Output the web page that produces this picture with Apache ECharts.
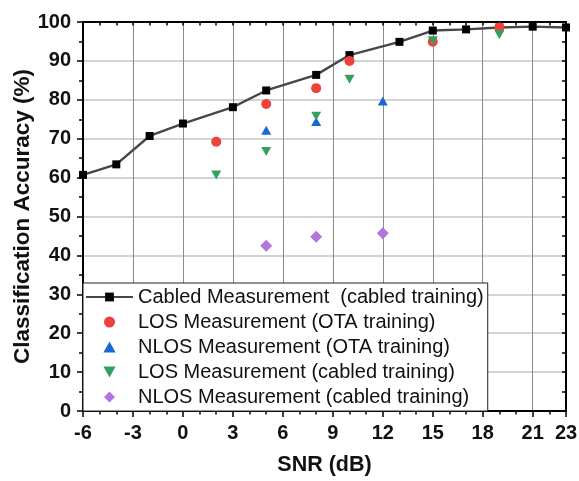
<!DOCTYPE html>
<html>
<head>
<meta charset="utf-8">
<script src="https://cdn.jsdelivr.net/npm/echarts@6/dist/echarts.min.js"></script>
<style>
  html, body { margin: 0; padding: 0; background: #fff; }
  #chart { width: 579px; height: 481px; }
</style>
</head>
<body>
<div id="chart"></div>
<script>
// SNR positions (dB) and classification accuracy (%) for each measurement set
const cabledSnr = [-6, -4, -2, 0, 3, 5, 8, 10, 13, 15, 17, 19, 21, 23];
const cabledAcc = [60.7, 63.4, 70.7, 73.9, 78.1, 82.4, 86.4, 91.5, 94.9, 97.8, 98.1, 98.6, 98.8, 98.6];

const losOtaSnr = [2, 5, 8, 10, 15, 19];
const losOtaAcc = [69.2, 78.9, 83.0, 90.0, 94.9, 98.6];

const nlosOtaSnr = [5, 8, 12];
const nlosOtaAcc = [72.2, 74.4, 79.7];

const losCabledSnr = [2, 5, 8, 10, 15, 19];
const losCabledAcc = [60.7, 66.7, 75.8, 85.3, 95.2, 96.7];

const nlosCabledSnr = [5, 8, 12];
const nlosCabledAcc = [42.5, 44.8, 45.7];

const seriesNames = [
  'Cabled Measurement  (cabled training)',
  'LOS Measurement (OTA training)',
  'NLOS Measurement (OTA training)',
  'LOS Measurement (cabled training)',
  'NLOS Measurement (cabled training)'
];

const xTickValues = [-6, -3, 0, 3, 6, 9, 12, 15, 18, 21, 23];
const yTickValues = [0, 10, 20, 30, 40, 50, 60, 70, 80, 90, 100];

const pairs = (xs, ys) => xs.map((x, i) => [x, ys[i]]);

// legend glyphs as paths so they keep their proportions inside the wide icon box
const ICON_UP = 'path://M5,0 L10,9 L0,9 Z';
const ICON_DOWN = 'path://M0,0 L10,0 L5,9 Z';
const ICON_DIAMOND = 'path://M5,0 L10,5 L5,10 L0,5 Z';

const FONT = '"Liberation Sans", Arial, sans-serif';
const frame = { show: true, onZero: false, lineStyle: { color: '#000', width: 2 } };
const tickFont = { fontFamily: FONT, fontWeight: 'bold', fontSize: 20, color: '#111' };

const chart = echarts.init(document.getElementById('chart'), null, { renderer: 'canvas' });

chart.setOption({
  animation: false,
  backgroundColor: '#fff',
  grid: { left: 83, right: 13, top: 22, bottom: 70, containLabel: false, outerBoundsMode: 'none' },
  legend: {
    orient: 'vertical',
    left: 83,
    top: 283,
    data: [
      { name: seriesNames[0] },
      { name: seriesNames[1], icon: 'circle' },
      { name: seriesNames[2], icon: ICON_UP },
      { name: seriesNames[3], icon: ICON_DOWN },
      { name: seriesNames[4], icon: ICON_DIAMOND }
    ],
    symbolKeepAspect: true,
    backgroundColor: '#fff',
    borderColor: '#222',
    borderWidth: 1,
    borderRadius: 0,
    padding: [4, 4, 4, 2],
    itemGap: 5,
    itemWidth: 47,
    itemHeight: 11,
    textStyle: { fontFamily: FONT, fontSize: 20, color: '#111' }
  },
  xAxis: [
    {
      type: 'value', position: 'bottom', min: -6, max: 23,
      name: 'SNR (dB)', nameLocation: 'middle', nameGap: 43, nameMoveOverlap: false,
      nameTextStyle: { fontFamily: FONT, fontWeight: 'bold', fontSize: 21.5, color: '#111' },
      axisLine: frame,
      axisTick: { show: true, inside: false, length: 6, customValues: xTickValues, lineStyle: { color: '#000', width: 1.5 } },
      axisLabel: Object.assign({ margin: 12, customValues: xTickValues, showMinLabel: true, showMaxLabel: true }, tickFont),
      splitLine: { show: true, lineStyle: { color: '#8a8a8a', width: 1 } }
    },
    {
      // unit minor ticks along the bottom edge
      type: 'value', position: 'bottom', min: -6, max: 23, interval: 1,
      axisLine: { show: false, onZero: false },
      axisTick: { show: true, inside: false, length: 3.5, lineStyle: { color: '#000', width: 1.5 } },
      axisLabel: { show: false },
      splitLine: { show: false }
    },
    {
      // top edge of the frame
      type: 'value', position: 'top', min: -6, max: 23, interval: 1,
      axisLine: frame,
      axisTick: { show: true, inside: true, length: 3.5, lineStyle: { color: '#000', width: 1.5 } },
      axisLabel: { show: false },
      splitLine: { show: false }
    }
  ],
  yAxis: [
    {
      type: 'value', position: 'left', min: 0, max: 100, interval: 10,
      name: 'Classification Accuracy (%)', nameLocation: 'middle', nameGap: 49, nameMoveOverlap: false,
      nameTextStyle: { fontFamily: FONT, fontWeight: 'bold', fontSize: 22.5, color: '#111' },
      axisLine: frame,
      axisTick: { show: true, inside: false, length: 6, lineStyle: { color: '#000', width: 1.5 } },
      minorTick: { show: true, splitNumber: 2, length: 4, lineStyle: { color: '#000', width: 1.5 } },
      axisLabel: Object.assign({ margin: 12, customValues: yTickValues }, tickFont),
      splitLine: { show: true, lineStyle: { color: '#c4c4c4', width: 1.5 } }
    },
    {
      // right edge of the frame
      type: 'value', position: 'right', min: 0, max: 100, interval: 5,
      axisLine: frame,
      axisTick: { show: true, inside: true, length: 4, lineStyle: { color: '#000', width: 1.5 } },
      axisLabel: { show: false },
      splitLine: { show: false }
    }
  ],
  series: [
    {
      name: seriesNames[0], type: 'line', data: pairs(cabledSnr, cabledAcc),
      symbol: 'rect', symbolSize: 8, z: 3,
      lineStyle: { color: '#474747', width: 2.4 },
      itemStyle: { color: '#000' }
    },
    {
      name: seriesNames[1], type: 'scatter', data: pairs(losOtaSnr, losOtaAcc),
      symbol: 'circle', symbolSize: 10, z: 4,
      itemStyle: { color: '#F0403C', opacity: 1 }
    },
    {
      name: seriesNames[2], type: 'scatter', data: pairs(nlosOtaSnr, nlosOtaAcc),
      symbol: 'triangle', symbolSize: [10, 9], z: 4,
      itemStyle: { color: '#1A66D8', opacity: 1 }
    },
    {
      name: seriesNames[3], type: 'scatter', data: pairs(losCabledSnr, losCabledAcc),
      symbol: 'triangle', symbolRotate: 180, symbolSize: [10, 9], z: 5,
      itemStyle: { color: '#33A05E', opacity: 1 }
    },
    {
      name: seriesNames[4], type: 'scatter', data: pairs(nlosCabledSnr, nlosCabledAcc),
      symbol: 'diamond', symbolSize: 12, z: 4,
      itemStyle: { color: '#B275E0', opacity: 1 }
    }
  ]
});
</script>
</body>
</html>
